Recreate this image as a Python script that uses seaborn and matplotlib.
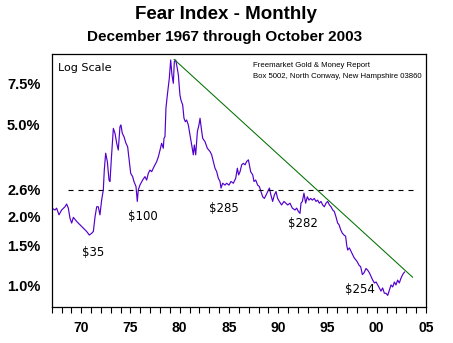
import numpy as np
import pandas as pd
import matplotlib
matplotlib.use("Agg")
import matplotlib.pyplot as plt
from matplotlib.ticker import FixedLocator, FuncFormatter, NullFormatter, NullLocator
import seaborn as sns

# Fear index (%), read monthly series, Dec 1967 - Oct 2003 (decimal years)
years = [
    1967.92, 1968.26, 1968.42, 1968.66, 1968.93, 1969.27, 1969.44, 1969.61, 1969.78, 1969.95,
    1970.12, 1970.46, 1970.79, 1971.13, 1971.47, 1971.74, 1971.98, 1972.15, 1972.32, 1972.49,
    1972.65, 1972.82, 1972.99, 1973.16, 1973.26, 1973.40, 1973.57, 1973.74, 1973.84, 1973.97,
    1974.18, 1974.35, 1974.52, 1974.68, 1974.85, 1974.95, 1975.09, 1975.26, 1975.46, 1975.63,
    1975.80, 1975.94, 1976.14, 1976.27, 1976.48, 1976.61, 1976.71, 1976.88, 1977.15, 1977.39,
    1977.56, 1977.73, 1977.90, 1978.07, 1978.31, 1978.58, 1978.75, 1978.92, 1979.08, 1979.25,
    1979.32, 1979.42, 1979.52, 1979.66, 1979.86, 1980.00, 1980.13, 1980.27, 1980.37, 1980.51,
    1980.67, 1980.78, 1980.94, 1981.04, 1981.22, 1981.35, 1981.49, 1981.62, 1981.79, 1981.96,
    1982.13, 1982.30, 1982.40, 1982.54, 1982.71, 1982.87, 1982.98, 1983.11, 1983.25, 1983.48,
    1983.72, 1984.00, 1984.16, 1984.33, 1984.50, 1984.67, 1984.84, 1985.01, 1985.11, 1985.28,
    1985.51, 1985.68, 1985.92, 1986.12, 1986.36, 1986.60, 1986.77, 1986.90, 1987.04, 1987.21,
    1987.38, 1987.55, 1987.71, 1987.89, 1987.99, 1988.12, 1988.33, 1988.46, 1988.63, 1988.83,
    1989.00, 1989.17, 1989.34, 1989.51, 1989.68, 1989.85, 1990.02, 1990.18, 1990.35, 1990.52,
    1990.69, 1990.86, 1991.03, 1991.26, 1991.50, 1991.88, 1992.11, 1992.35, 1992.62, 1992.79,
    1992.96, 1993.13, 1993.23, 1993.37, 1993.53, 1993.70, 1993.87, 1994.04, 1994.21, 1994.38,
    1994.58, 1994.75, 1994.92, 1995.09, 1995.26, 1995.43, 1995.60, 1995.77, 1995.94, 1996.11,
    1996.28, 1996.45, 1996.61, 1996.78, 1996.95, 1997.09, 1997.26, 1997.43, 1997.60, 1997.76,
    1997.87, 1997.97, 1998.14, 1998.31, 1998.48, 1998.64, 1998.78, 1998.95, 1999.12, 1999.29,
    1999.46, 1999.63, 1999.83, 2000.00, 2000.17, 2000.34, 2000.51, 2000.68, 2000.85, 2001.02,
    2001.18, 2001.35, 2001.52, 2001.69, 2001.86, 2002.03, 2002.20, 2002.37, 2002.54, 2002.71,
    2002.87, 2003.04, 2003.21, 2003.38, 2003.55, 2003.75,
]
fear_pct = [
    2.17, 2.13, 2.17, 2.03, 2.13, 2.20, 2.26, 2.17, 1.96, 1.87,
    1.98, 1.90, 1.84, 1.78, 1.72, 1.66, 1.69, 1.72, 1.99, 2.20,
    2.20, 2.03, 2.35, 2.60, 3.17, 3.75, 3.45, 2.87, 2.83, 3.51,
    4.80, 4.57, 4.14, 3.87, 4.88, 4.97, 4.57, 4.42, 4.14, 4.00,
    3.45, 3.07, 2.97, 2.83, 2.69, 2.32, 2.60, 2.73, 2.87, 2.97,
    2.87, 3.07, 3.17, 3.12, 3.28, 3.45, 3.62, 3.87, 4.14, 3.94,
    4.35, 4.42, 5.87, 6.69, 7.90, 9.49, 8.17, 7.52, 9.33, 9.49,
    8.73, 8.17, 6.69, 6.37, 6.06, 5.31, 5.13, 5.22, 4.97, 4.50,
    4.07, 3.69, 4.07, 3.69, 4.65, 4.97, 5.31, 4.80, 4.35, 4.21,
    3.94, 3.81, 3.69, 3.45, 3.23, 3.12, 2.92, 2.83, 2.65, 2.78,
    2.73, 2.78, 2.73, 2.83, 2.78, 2.92, 3.23, 3.02, 3.12, 3.34,
    3.39, 3.34, 3.45, 3.51, 3.34, 3.12, 3.02, 2.83, 2.87, 2.73,
    2.69, 2.56, 2.43, 2.39, 2.47, 2.56, 2.65, 2.47, 2.32, 2.47,
    2.56, 2.39, 2.32, 2.24, 2.32, 2.24, 2.28, 2.17, 2.13, 2.17,
    2.10, 2.06, 2.28, 2.32, 2.52, 2.28, 2.43, 2.35, 2.39, 2.35,
    2.39, 2.32, 2.35, 2.28, 2.32, 2.24, 2.20, 2.28, 2.32, 2.24,
    2.20, 2.13, 2.10, 1.99, 1.87, 1.84, 1.75, 1.69, 1.66, 1.64,
    1.50, 1.43, 1.46, 1.41, 1.36, 1.32, 1.30, 1.27, 1.23, 1.21,
    1.12, 1.14, 1.19, 1.17, 1.14, 1.10, 1.06, 1.03, 1.04, 1.01,
    0.98, 0.95, 0.98, 0.93, 0.93, 0.91, 0.96, 1.01, 0.99, 1.04,
    1.01, 1.06, 1.03, 1.08, 1.12, 1.15,
]

# Downtrend line from the 1980 peak
trend_years = [1980.34, 2004.57]
trend_pct = [9.55, 1.09]

# Reference level
ref_level = 2.6
ref_span = [1969.61, 2004.80]

# Gold price callouts
gold_labels = ["$35", "$100", "$285", "$282", "$254"]
gold_years = [1972.09, 1977.22, 1985.39, 1993.45, 1999.25]
gold_pct = [1.396, 1.99, 2.17, 1.854, 0.961]

ytick_vals = [1.0, 1.5, 2.0, 2.6, 5.0, 7.5]
ytick_labels = ["1.0%", "1.5%", "2.0%", "2.6%", "5.0%", "7.5%"]
xtick_labels = ["70", "75", "80", "85", "90", "95", "00", "05"]

x_start = 1967.92
x_end = 2005.92

sns.set_theme(style="white")
plt.rcParams["font.family"] = ["Liberation Sans", "DejaVu Sans"]

fig = plt.figure(figsize=(4.53, 3.43), dpi=100)
ax = fig.add_axes([0.1141, 0.105, 0.8263, 0.7376])

df = pd.DataFrame({"year": years, "fear": fear_pct})
sns.lineplot(data=df, x="year", y="fear", ax=ax, color="#5200CC", linewidth=0.85)
sns.lineplot(x=trend_years, y=trend_pct, ax=ax, color="#007000", linewidth=0.75)
ax.plot(ref_span, [ref_level, ref_level], color="black", linewidth=0.8,
        dashes=(4.5, 4.5))

ax.set_yscale("log")
ax.set_ylim(0.811, 10.07)
ax.set_xlim(x_start, x_end)

ax.yaxis.set_major_locator(FixedLocator(ytick_vals))
ax.yaxis.set_major_formatter(FuncFormatter(lambda v, p: ytick_labels[ytick_vals.index(round(v, 1))] if round(v, 1) in ytick_vals else ""))
ax.yaxis.set_minor_locator(NullLocator())
ax.yaxis.set_minor_formatter(NullFormatter())

major_x = [x_start + 3 + 5 * i for i in range(len(xtick_labels))]
minor_x = [x_start + i for i in range(39)]
ax.xaxis.set_major_locator(FixedLocator(major_x))
ax.xaxis.set_minor_locator(FixedLocator(minor_x))
ax.set_xticklabels(xtick_labels)

ax.tick_params(axis="x", which="both", direction="out", length=4, width=0.8,
               color="black", bottom=True)
ax.tick_params(axis="x", which="major", pad=6, labelsize=10, labelcolor="black")
ax.tick_params(axis="y", which="both", length=0, pad=8, labelsize=10.5,
               labelcolor="black")
for lab in ax.get_xticklabels() + ax.get_yticklabels():
    lab.set_fontweight("bold")

for s in ax.spines.values():
    s.set_color("black")
    s.set_linewidth(0.9)

ax.set_xlabel("")
ax.set_ylabel("")
ax.grid(False)

for txt, xv, yv in zip(gold_labels, gold_years, gold_pct):
    ax.text(xv, yv, txt, ha="center", va="center", fontsize=8.5,
            family="DejaVu Sans", color="black")

ax.text(0.017, 0.946, "Log Scale", transform=ax.transAxes, ha="left",
        va="center", fontsize=8, family="DejaVu Sans", color="black")
ax.text(0.537, 0.953, "Freemarket Gold & Money Report", transform=ax.transAxes,
        ha="left", va="center", fontsize=5.6, color="black")
ax.text(0.537, 0.910, "Box 5002, North Conway, New Hampshire 03860",
        transform=ax.transAxes, ha="left", va="center", fontsize=5.6,
        color="black")

fig.text(0.4985, 1 - 14.5 / 343, "Fear Index - Monthly", ha="center",
         va="center", fontsize=13.5, fontweight="bold", color="black")
fig.text(0.4967, 1 - 37.5 / 343, "December 1967 through October 2003",
         ha="center", va="center", fontsize=11, fontweight="bold",
         color="black")

fig.savefig("out.png", dpi=100)
